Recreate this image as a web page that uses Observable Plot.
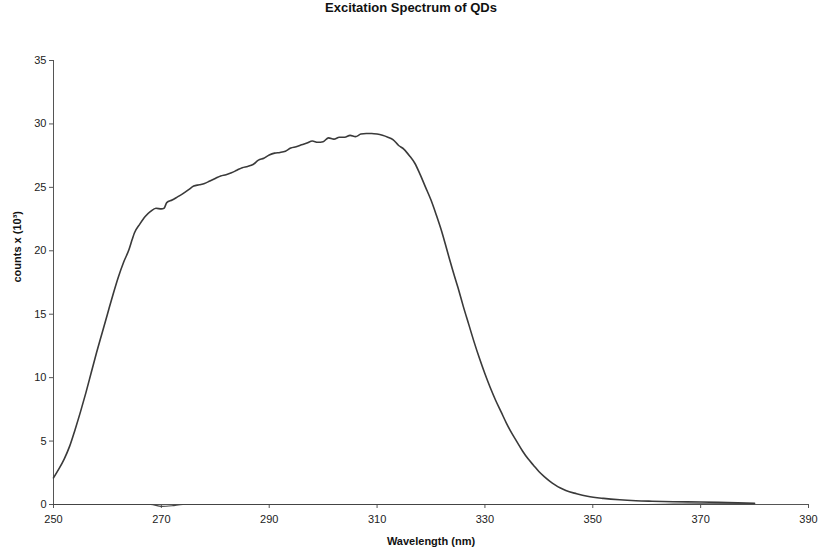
<!DOCTYPE html>
<html>
<head>
<meta charset="utf-8">
<script src="https://cdn.jsdelivr.net/npm/d3@7"></script>
<script src="https://cdn.jsdelivr.net/npm/@observablehq/plot@0.6"></script>
<style>
  html, body { margin: 0; padding: 0; background: #fff; }
  #title { width: 822px; height: 36px; line-height: 36px; text-align: center;
           font: bold 13px "Liberation Sans", Arial, sans-serif; color: #111; }
</style>
</head>
<body>
<div id="title">Excitation Spectrum of QDs</div>
<div id="chart"></div>
<script>
const wavelength = [250,251,252,253,254,255,256,257,258,259,260,261,262,263,264,264.6,265,266,267,268,269,270,270.5,271,272,273,274,275,276,277,278,279,280,281,282,283,284,285,286,287,288,289,290,291,292,293,294,295,296,297,298,299,300,301,302,303,304,305,306,307,308,309,310,311,312,313,314,315,316,317,318,319,320,321,322,323,324,325,326,327,328,329,330,331,332,333,334,335,336,337,338,339,340,341,342,343,344,345,347,349,352,355,358,361,365,370,375,380];
const counts = [2.1,2.8,3.6,4.6,5.9,7.3,8.8,10.4,12.0,13.5,15.0,16.5,17.9,19.1,20.1,20.9,21.4,22.1,22.7,23.1,23.35,23.3,23.35,23.8,24.0,24.25,24.5,24.8,25.1,25.2,25.3,25.5,25.7,25.9,26.0,26.15,26.35,26.55,26.65,26.8,27.15,27.3,27.55,27.7,27.75,27.85,28.1,28.2,28.35,28.5,28.65,28.55,28.6,28.9,28.8,28.95,28.95,29.1,29.0,29.2,29.25,29.25,29.2,29.1,28.95,28.75,28.3,28.0,27.5,26.9,26.0,25.0,24.0,22.8,21.5,20.0,18.5,17.1,15.6,14.2,12.8,11.5,10.3,9.2,8.2,7.3,6.4,5.6,4.9,4.2,3.6,3.1,2.6,2.2,1.85,1.55,1.3,1.1,0.85,0.65,0.48,0.37,0.3,0.26,0.22,0.2,0.15,0.1];

const blankWavelength = [250,268,270,272,274,300,330,360,370,380];
const blankCounts = [0,0,-0.15,-0.1,0,0,0,0,0.05,0.05];

const xTicks = [250,270,290,310,330,350,370,390];
const yTicks = [0,5,10,15,20,25,30,35];

const spectrum = wavelength.map((w, i) => ({w, c: counts[i]}));
const blank = blankWavelength.map((w, i) => ({w, c: blankCounts[i]}));

const font = '"Liberation Sans", Arial, sans-serif';
const plot = Plot.plot({
  width: 822,
  height: 513,
  marginTop: 24,
  marginBottom: 45,
  marginLeft: 53,
  marginRight: 14,
  style: {fontFamily: font, fontSize: "11px", color: "#222", background: "#fff"},
  x: {domain: [250, 390]},
  y: {domain: [0, 35]},
  marks: [
    Plot.axisX({ticks: xTicks, tickSize: 4, tickPadding: 7, label: null, stroke: "#555", fontSize: 11}),
    Plot.axisY({ticks: yTicks, tickSize: 4, tickPadding: 3, label: null, stroke: "#555", fontSize: 11}),
    Plot.ruleY([0], {stroke: "#555", strokeWidth: 1}),
    Plot.ruleX([250], {stroke: "#555", strokeWidth: 1}),
    Plot.line(blank, {x: "w", y: "c", stroke: "#444", strokeWidth: 1.2, curve: "monotone-x"}),
    Plot.line(spectrum, {x: "w", y: "c", stroke: "#3a3a3a", strokeWidth: 1.6, curve: "monotone-x"}),
    Plot.text(["Wavelength (nm)"], {frameAnchor: "bottom", dy: 40, fontWeight: "bold", fontSize: 11, fill: "#111"}),
    Plot.text(["counts x (10³)"], {frameAnchor: "left", dx: -36, rotate: -90, fontWeight: "bold", fontSize: 11, fill: "#111"})
  ]
});
document.getElementById("chart").appendChild(plot);
</script>
</body>
</html>
